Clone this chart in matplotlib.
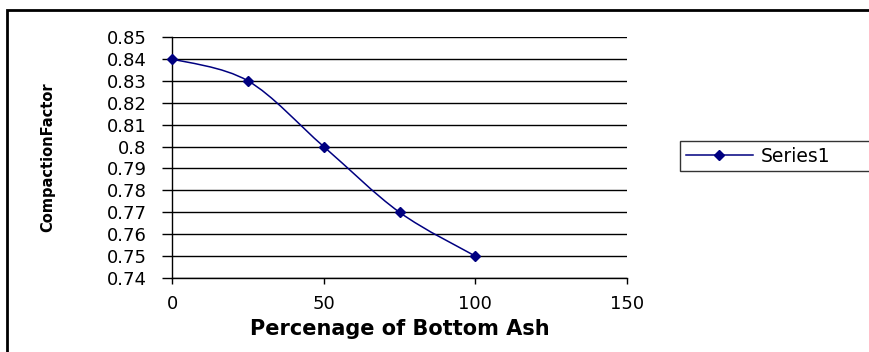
import matplotlib
matplotlib.use("Agg")
import matplotlib.pyplot as plt
from matplotlib.path import Path
from matplotlib.patches import PathPatch, Rectangle
from matplotlib.lines import Line2D
import numpy as np

# data
ash_pct = [0, 25, 50, 75, 100]
compaction = [0.84, 0.83, 0.80, 0.77, 0.75]
x_ticks = [0, 50, 100, 150]
y_ticks = [0.74, 0.75, 0.76, 0.77, 0.78, 0.79, 0.80, 0.81, 0.82, 0.83, 0.84, 0.85]
y_tick_labels = ["0.74", "0.75", "0.76", "0.77", "0.78", "0.79", "0.8",
                 "0.81", "0.82", "0.83", "0.84", "0.85"]

navy = "#000080"

plt.rcParams['font.family'] = 'DejaVu Sans'

fig = plt.figure(figsize=(8.69, 3.52), dpi=100)
ax = fig.add_axes([172 / 869, 1 - 278 / 352, (627 - 172) / 869, (278 - 37) / 352])

# outer chart border (only top and left visible in the crop)
fig.patches.append(Rectangle((7 / 869, -0.05), 1.1, 1 - 10 / 352 + 0.05,
                             transform=fig.transFigure, fill=False,
                             edgecolor="black", linewidth=2, clip_on=False))

# smoothed line like excel, bezier through the data points
pts = np.column_stack([ash_pct, compaction])
ext = np.vstack([pts[0], pts, pts[-1]])
verts = [tuple(pts[0])]
codes = [Path.MOVETO]
for i in range(1, len(ext) - 2):
    p0, p1, p2, p3 = ext[i - 1], ext[i], ext[i + 1], ext[i + 2]
    c1 = p1 + (p2 - p0) / 6
    c2 = p2 - (p3 - p1) / 6
    verts += [tuple(c1), tuple(c2), tuple(p2)]
    codes += [Path.CURVE4] * 3
ax.add_patch(PathPatch(Path(verts, codes), fill=False, edgecolor=navy, linewidth=1.1, zorder=3))
ax.plot(ash_pct, compaction, linestyle="none", marker="D", markersize=5.5,
        color=navy, zorder=4, clip_on=False)

ax.set_xlim(0, 150)
ax.set_ylim(0.74, 0.85)
ax.set_xticks(x_ticks)
ax.set_yticks(y_ticks)
ax.set_yticklabels(y_tick_labels)
ax.yaxis.grid(True, color="black", linewidth=1)
ax.set_axisbelow(True)

for s in ["top", "right"]:
    ax.spines[s].set_visible(False)
ax.spines["left"].set_linewidth(1)
ax.spines["bottom"].set_linewidth(1)

ax.tick_params(axis="y", direction="out", length=7.2, width=1, pad=11, labelsize=13)
ax.tick_params(axis="x", direction="out", length=4, width=1, pad=8, labelsize=13)

fig.text(400 / 869, 1 - 329 / 352, "Percenage of Bottom Ash", ha="center", va="center",
         fontsize=15, fontweight="bold")
fig.text(48 / 869, 1 - 157 / 352, "CompactionFactor", ha="center", va="center",
         rotation=90, fontsize=10.5, fontweight="bold",
         family=["Liberation Sans Narrow", "DejaVu Sans"])

# legend box runs off the right edge in the original
handle = Line2D([], [], color=navy, marker="D", markersize=5.5, linewidth=1.1)
leg = fig.legend([handle], ["Series1"], loc="center left", mode="expand",
                 bbox_to_anchor=(680 / 869, 1 - 169 / 352, 230 / 869, 26 / 352),
                 bbox_transform=fig.transFigure,
                 fontsize=13.5, frameon=True, fancybox=False, handlelength=3.6,
                 borderpad=0.3, handletextpad=0.4, borderaxespad=0)
leg.get_frame().set_edgecolor("black")
leg.get_frame().set_linewidth(1)

fig.savefig("out.png", dpi=100)
